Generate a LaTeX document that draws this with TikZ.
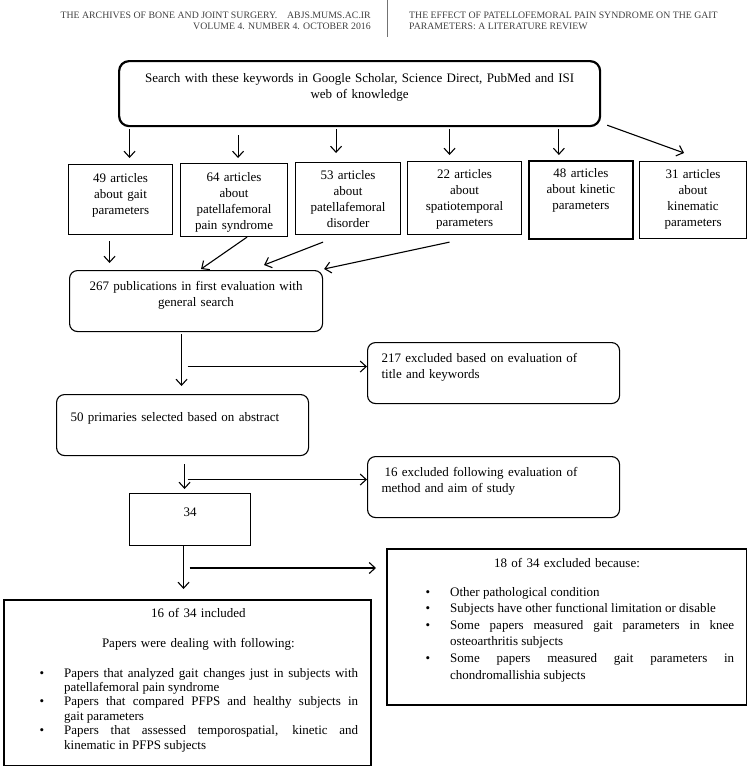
\documentclass[tikz,border=0pt]{standalone}
\usepackage{fontspec}
\setmainfont{Liberation Serif}
\usetikzlibrary{arrows.meta}

\newcommand{\bulletitem}{\noindent\hangindent=34pt\hangafter=1\makebox[34pt][l]{\hspace{9.5pt}\textbullet}}

\tikzset{
  box/.style={draw, anchor=north west, inner xsep=4pt, inner ysep=0pt, align=center, line width=1.1pt},
  roundbox/.style={box, rounded corners=8pt},
  leftbox/.style={roundbox, align=left, inner xsep=14pt, text width=224pt},
  listtext/.style={anchor=base west, inner sep=0pt, align=justify},
  conn/.style={->, line width=1.1pt},
  headtext/.style={font=\fontsize{9.8}{11}\selectfont, text=black!75, inner sep=0pt},
}

\begin{document}
\begin{tikzpicture}[x=1pt,y=-1pt, >={Straight Barb[length=6pt,width=11pt]}, font=\fontsize{13}{16}\selectfont]
\useasboundingbox (0,0) rectangle (747,766);

% running head
\node[headtext, anchor=base east] (jname) at (371,18.5) {THE ARCHIVES OF BONE AND JOINT SURGERY.\quad ABJS.MUMS.AC.IR};
\node[headtext, anchor=base east] (jvol) at (371,29) {VOLUME 4. NUMBER 4. OCTOBER 2016};
\node[headtext, anchor=base west] (atitle1) at (409,18.5) {THE EFFECT OF PATELLOFEMORAL PAIN SYNDROME ON THE GAIT};
\node[headtext, anchor=base west] (atitle2) at (409,29) {PARAMETERS: A LITERATURE REVIEW};
\draw[black!55, line width=0.7pt] (387,0) -- (387,37);

% search
\node[box, line width=2.2pt, rounded corners=10pt, text width=473pt, text height=21pt, text depth=44pt] (search) at (118,60)
  {Search with these keywords in Google Scholar, Science Direct, PubMed and ISI\\web of knowledge};

% article counts
\node[box, text width=96pt, text height=18pt, text depth=52pt] (b1) at (68,164) {49 articles\\about gait\\parameters};
\node[box, text width=99pt, text height=18pt, text depth=55pt] (b2) at (180,163) {64 articles\\about\\patellafemoral\\pain syndrome};
\node[box, text width=97pt, text height=17pt, text depth=55pt] (b3) at (295,162) {53 articles\\about\\patellafemoral\\disorder};
\node[box, text width=106pt, text height=17pt, text depth=56pt] (b4) at (407,161) {22 articles\\about\\spatiotemporal\\parameters};
\node[box, line width=1.8pt, text width=96pt, text height=17pt, text depth=61pt] (b5) at (528,160) {48 articles\\about kinetic\\parameters};
\node[box, text width=99pt, text height=17pt, text depth=60pt] (b6) at (639,161) {31 articles\\about\\kinematic\\parameters};

\foreach \b/\dx/\s/\e in {b1/9/2/6, b2/4/8/5, b3/-12/2/9, b4/-15/2/6, b5/-22/2/5}{
  \coordinate (\b top) at ([xshift=\dx pt]\b.north);
  \draw[conn, shorten <=\s pt, shorten >=\e pt] (\b top |- search.south) -- (\b top);
}
\draw[conn] ([shift={(6,-2)}]search.south east) -- ([shift={(-9,-8)}]b6.north);

% screening
\node[roundbox, text width=245pt, text height=20pt, text depth=41pt] (pub) at (69,270) {267 publications in first evaluation with\\general search};
\node[leftbox, text height=20pt, text depth=41pt] (excl1) at (367,342) {217 excluded based on evaluation of\\title and keywords};
\node[leftbox, text height=27pt, text depth=34pt] (prim) at (56,394) {50 primaries selected based on abstract};
\node[leftbox, text height=20pt, text depth=41pt] (excl2) at (367,456) {\hspace*{3pt}16 excluded following evaluation of\\method and aim of study};
\node[box, text width=113pt, text height=23pt, text depth=29pt] (n34) at (129,493) {34};

\coordinate (b1bot) at ([shift={(-11,6)}]b1.south);
\draw[conn, shorten >=7pt] (b1bot) -- (b1bot |- pub.north);
\draw[conn] ([shift={(13,0)}]b2.south) -- ([shift={(5,-1)}]pub.north);
\draw[conn] ([shift={(-25,7)}]b3.south) -- ([shift={(68,-5)}]pub.north);
\draw[conn] ([shift={(-15,7)}]b4.south) -- ([shift={(1,-1)}]pub.north east);

\coordinate (pubout) at ([xshift=-14.5pt]pub.south);
\coordinate (ex1in) at ([shift={(0,-6.5)}]excl1.west);
\draw[conn, shorten <=2pt, shorten >=8pt] (pubout) -- (pubout |- prim.north);
\draw[conn, shorten <=6pt] (pubout |- ex1in) -- (ex1in);

\coordinate (primout) at ([xshift=2pt]prim.south);
\coordinate (ex2in) at ([shift={(0,-7.5)}]excl2.west);
\draw[conn, shorten <=8pt, shorten >=4pt] (primout) -- (primout |- n34.north);
\draw[conn, shorten <=3pt] (primout |- ex2in) -- (ex2in);

% final selection
\node[box, line width=1.8pt, text width=359pt, text height=18pt, text depth=148pt] (incl) at (3,599)
  {\hspace*{22pt}16 of 34 included\\[14pt]\hspace*{22pt}Papers were dealing with following:};
\node[listtext, text width=328pt, font=\fontsize{13}{14.4}\selectfont] (incllist) at ([shift={(27,78)}]incl.north west) {%
  \bulletitem Papers that analyzed gait changes just in subjects with\linebreak patellafemoral pain syndrome\par
  \bulletitem Papers that compared PFPS and healthy subjects in\linebreak gait parameters\par
  \bulletitem Papers that assessed temporospatial, kinetic and\linebreak kinematic in PFPS subjects\par};

\node[box, line width=2pt, text width=352pt, text height=18pt, text depth=138pt] (excl3) at (386,548) {18 of 34 excluded because:};
\node[listtext, text width=318pt, font=\fontsize{13}{16.6}\selectfont] (excl3list) at ([shift={(30,48)}]excl3.north west) {%
  \bulletitem Other pathological condition\par
  \bulletitem Subjects have other functional limitation or disable\par
  \bulletitem Some papers measured gait parameters in knee\linebreak osteoarthritis subjects\par
  \bulletitem Some papers measured gait parameters in\linebreak chondromallishia subjects\par};

\coordinate (n34out) at ([xshift=-6.5pt]n34.south);
\coordinate (ex3in) at ([shift={(-10,20)}]excl3.north west);
\draw[conn, shorten >=10pt] (n34out) -- (n34out |- incl.north);
\draw[conn, shorten <=6pt] (n34out |- ex3in) -- (ex3in);
\end{tikzpicture}
\end{document}
